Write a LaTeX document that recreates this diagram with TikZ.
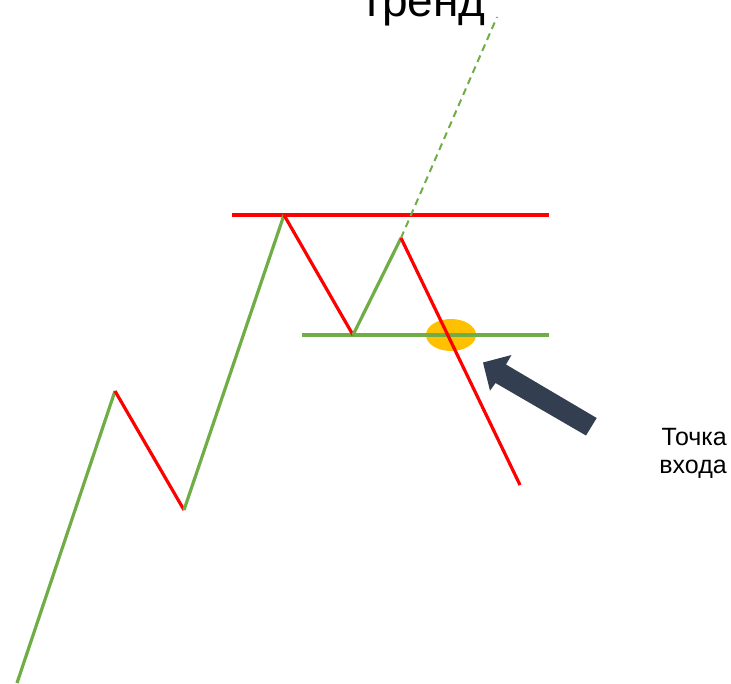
\documentclass[tikz,border=0pt]{standalone}
\usepackage{fontspec}
\setmainfont{Liberation Sans}
\definecolor{tgreen}{HTML}{70AD47}
\definecolor{tred}{HTML}{FF0000}
\definecolor{tyellow}{HTML}{FFC000}
\definecolor{tdark}{HTML}{333F50}
\begin{document}
\begin{tikzpicture}[x=1pt,y=-1pt,
  upleg/.style={draw=tgreen,line width=3.2pt},
  downleg/.style={draw=tred,line width=3.2pt},
  lvl/.style={line width=3.2pt},
  lbl/.style={inner sep=0pt,font=\fontsize{25}{28.5}\selectfont,align=right}]
\useasboundingbox (0,0) rectangle (731,683);
\coordinate (p0) at (17,683);
\coordinate (p1) at (115,391);
\coordinate (p2) at (184,510);
\coordinate (p3) at (284,215);
\coordinate (p4) at (353,335);
\coordinate (p5) at (401,238);
\coordinate (p6) at (520,485);
\coordinate (p7) at (497,17);
\coordinate (rl) at (232,215);
\coordinate (rr) at (549,215);
\coordinate (gl) at (302,335);
\coordinate (gr) at (549,335);
% entry point marker
\fill[tyellow] (451,335) ellipse [x radius=25pt,y radius=16pt];
% levels
\draw[lvl,tred] (rl) -- (rr);
\draw[lvl,tgreen] (gl) -- (gr);
% zigzag
\draw[upleg] (p0) -- (p1);
\draw[downleg] (p1) -- (p2);
\draw[upleg] (p2) -- (p3);
\draw[downleg] (p3) -- (p4);
\draw[upleg] (p4) -- (p5);
\draw[downleg] (p5) -- (p6);
\draw[tgreen,line width=2pt,dash pattern=on 7pt off 5pt] (p5) -- (p7);
% arrow
\fill[tdark] (483,362.5) -- (511.5,355) -- (506,364.5) -- (596.7,418)
  -- (586,435.5) -- (495.5,383) -- (490,390.7) -- cycle;
% labels
\node[inner sep=0pt,anchor=base,font=\fontsize{46}{46}\selectfont] (trend) at (423.5,16) {тренд};
\node[lbl,anchor=north east] (entry) at (727,428) {Точка\\входа};
\end{tikzpicture}
\end{document}
